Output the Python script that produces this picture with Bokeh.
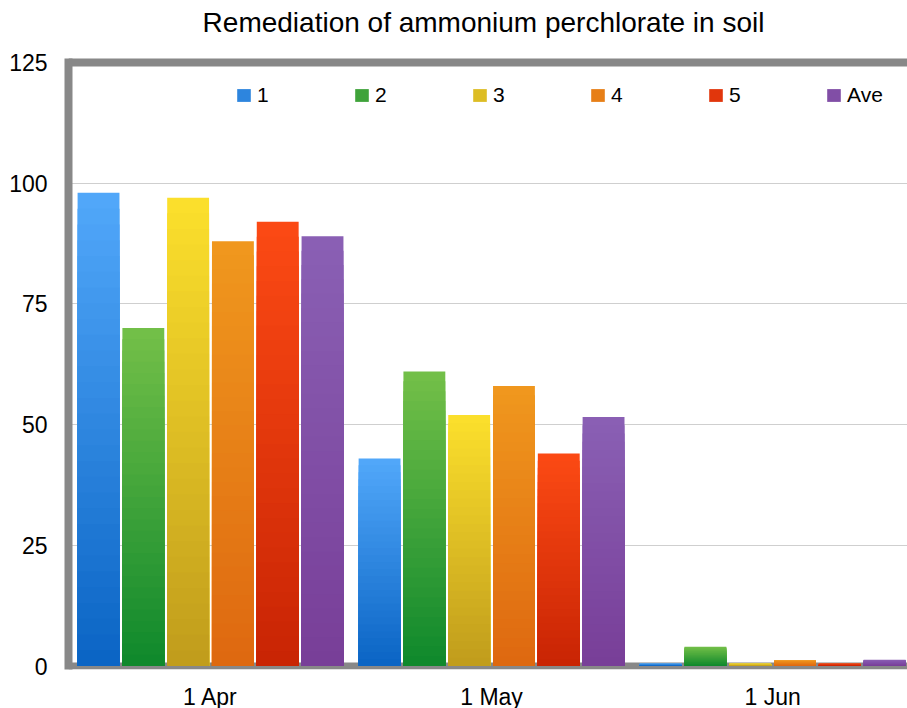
import numpy as np
from bokeh.plotting import figure
from bokeh.models import ColumnDataSource, Range1d, FixedTicker, Span, Legend, LegendItem, Label
from bokeh.embed import file_html
from bokeh.resources import INLINE

# ---- data ----
title = "Remediation of ammonium perchlorate in soil"
dates = ["1 Apr", "1 May", "1 Jun"]
series = ["1", "2", "3", "4", "5", "Ave"]
s1 = [98, 43, 0.5]
s2 = [70, 61, 4]
s3 = [97, 52, 0.5]
s4 = [88, 58, 1.2]
s5 = [92, 44, 0.5]
ave = [89, 51.6, 1.3]
yticks = [0, 25, 50, 75, 100, 125]

values = [s1, s2, s3, s4, s5, ave]

# ---- styles ----
top_colors = ["#52a8fa", "#74c048", "#fce02c", "#f0981e", "#fc4a14", "#8a60b4"]
bottom_colors = ["#0a64c4", "#0e882c", "#c09c1c", "#de6810", "#c82404", "#783e98"]
FONT = "Liberation Sans"
N = 30          # gradient steps
pitch = 0.1594  # bar pitch inside a group (x units)
bar_w = 0.149
FRAME_W, FRAME_H = 839, 669
PX_PER_X = 281.04
PX_PER_Y = 4.828
BORDER = "#888888"


def hex2rgb(h):
    h = h.lstrip("#")
    return np.array([int(h[i:i + 2], 16) for i in (0, 2, 4)], dtype=float)


def rgb2hex(c):
    return "#%02x%02x%02x" % tuple(int(round(v)) for v in c)


x0 = -1.5 / PX_PER_X
x1 = x0 + FRAME_W / PX_PER_X
y0 = -3.5 / PX_PER_Y
y1 = y0 + FRAME_H / PX_PER_Y
y_top_border = yticks[-1] + 4 / PX_PER_Y

p = figure(frame_width=FRAME_W, frame_height=FRAME_H, output_backend="svg", toolbar_location=None,
           title=None, x_range=Range1d(x0, x1), y_range=Range1d(y0, y1),
           min_border_left=68, min_border_right=0, min_border_top=0, min_border_bottom=39)
p.outline_line_color = None
p.background_fill_color = "white"
p.border_fill_color = "white"

# title drawn inside the (extended) frame
p.add_layout(Label(x=415, y=FRAME_H - 22, x_units="screen", y_units="screen",
                   text=title, text_align="center", text_baseline="alphabetic",
                   text_font=FONT, text_font_size="28px", text_color="#000000"))

# grid
p.xgrid.grid_line_color = None
p.ygrid.ticker = FixedTicker(ticks=yticks)
p.ygrid.grid_line_color = "#cfcfcf"
p.ygrid.grid_line_width = 1

# borders (bottom & top); left border is the y-axis line
p.add_layout(Span(location=0, dimension="width", line_color=BORDER, line_width=7, level="underlay"))
p.add_layout(Span(location=yticks[-1], dimension="width", line_color=BORDER, line_width=8))

# bars (gradient: stacked from tallest/lightest to shortest/darkest)
legend_items = []
for k, (name, vals) in enumerate(zip(series, values)):
    ct = hex2rgb(top_colors[k])
    cb = hex2rgb(bottom_colors[k])
    xs, tops, cols = [], [], []
    for j in range(N, 0, -1):
        frac = (j - 0.5) / N
        col = rgb2hex(cb + (ct - cb) * frac)
        for g, v in enumerate(vals):
            xs.append(g + 0.5 + (k - 2.5) * pitch)
            tops.append(v * j / N)
            cols.append(col)
    src = ColumnDataSource(dict(x=xs, top=tops, color=cols))
    r = p.vbar(x="x", top="top", bottom=0, width=bar_w, fill_color="color", line_color=None, source=src)
    legend_items.append(LegendItem(label=name, renderers=[r], index=(N // 2) * len(vals)))

legend = Legend(items=legend_items, orientation="horizontal", location=(167, 562),
                border_line_color=None, background_fill_alpha=0, padding=0, margin=0,
                spacing=10, glyph_width=17, glyph_height=16, label_standoff=5, label_width=86,
                label_text_font=FONT, label_text_font_size="21px", label_text_color="#000000")
p.add_layout(legend)

# axes
p.yaxis.ticker = FixedTicker(ticks=yticks)
p.yaxis.bounds = (y0, y_top_border)
p.yaxis.axis_line_color = BORDER
p.yaxis.axis_line_width = 8
p.yaxis.major_tick_line_color = None
p.yaxis.major_tick_out = 0
p.yaxis.minor_tick_line_color = None
p.yaxis.minor_tick_out = 0
p.yaxis.major_label_text_font = FONT
p.yaxis.major_label_text_font_size = "23px"
p.yaxis.major_label_text_color = "#000000"
p.yaxis.major_label_standoff = 21

xt = [i + 0.5 for i in range(len(dates))]
p.xaxis.ticker = FixedTicker(ticks=xt)
p.xaxis.major_label_overrides = {t: d for t, d in zip(xt, dates)}
p.xaxis.axis_line_color = None
p.xaxis.major_tick_line_color = None
p.xaxis.major_tick_out = 0
p.xaxis.minor_tick_line_color = None
p.xaxis.minor_tick_out = 0
p.xaxis.major_label_text_font = FONT
p.xaxis.major_label_text_font_size = "23px"
p.xaxis.major_label_text_color = "#000000"
p.xaxis.major_label_standoff = 14

open("out.html", "w").write(file_html(p, INLINE))
